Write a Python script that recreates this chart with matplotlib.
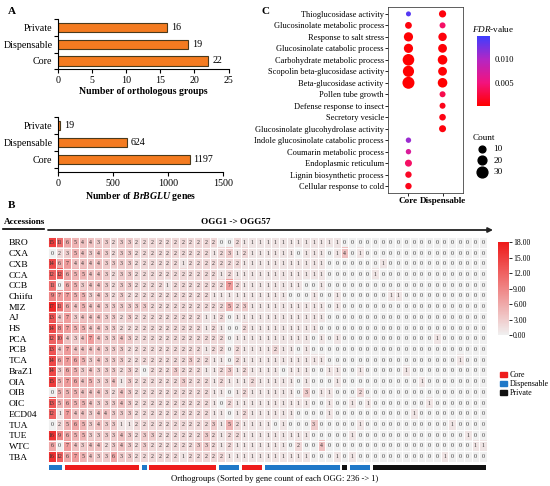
import itertools
import numpy as np
import matplotlib.pyplot as plt
from matplotlib.colors import LinearSegmentedColormap, Normalize
from matplotlib.cm import ScalarMappable
from matplotlib.patches import Patch
from matplotlib.lines import Line2D

plt.rcParams['font.family'] = ['Liberation Serif', 'DejaVu Serif']
plt.rcParams['mathtext.fontset'] = 'custom'
plt.rcParams['mathtext.rm'] = 'Liberation Serif'
plt.rcParams['mathtext.it'] = 'Liberation Serif:italic'
plt.rcParams['mathtext.bf'] = 'Liberation Serif:bold'
plt.rcParams['mathtext.bfit'] = 'Liberation Serif:italic:bold'

# ---- panel A data
groups = ['Core', 'Dispensable', 'Private']
ogg_counts = [22, 19, 16]
gene_totals = [1197, 624, 19]

# ---- panel C data (top to bottom)
go_terms = ['Thioglucosidase activity', 'Glucosinolate metabolic process',
            'Response to salt stress', 'Glucosinolate catabolic process',
            'Carbohydrate metabolic process', 'Scopolin beta-glucosidase activity',
            'Beta-glucosidase activity', 'Pollen tube growth',
            'Defense response to insect', 'Secretory vesicle',
            'Glucosinolate glucohydrolase activity',
            'Indole glucosinolate catabolic process', 'Coumarin metabolic process',
            'Endoplasmic reticulum', 'Lignin biosynthetic process',
            'Cellular response to cold']
nan = np.nan
core_go_count = [1, 10, 22, 22, 34, 32, 36, nan, nan, nan, nan, 3, 3, 11, 8, 8]
core_go_fdr = [0.014, 0.0005, 0.0002, 0.0002, 0.0001, 0.0001, 0.0001, nan, nan, nan, nan,
               0.011, 0.007, 0.004, 0.0015, 0.001]
disp_go_count = [12, 6, 18, 20, 24, 20, 24, 6, 6, 9, 11, nan, nan, nan, nan, nan]
disp_go_fdr = [0.0005, 0.004, 0.0005, 0.0003, 0.0002, 0.0002, 0.0001, 0.003, 0.001,
               0.0008, 0.0005, nan, nan, nan, nan, nan]
count_legend = [10, 20, 30]

# ---- panel B data
accessions = ['BRO', 'CXA', 'CXB', 'CCA', 'CCB', 'Chiifu', 'MIZ', 'AJ', 'HS', 'PCA',
              'PCB', 'TCA', 'BraZ1', 'OIA', 'OIB', 'OIC', 'ECD04', 'TUA', 'TUE', 'WTC', 'TBA']
# class of OGG1..OGG57: C core, D dispensable, P private
ogg_class = list('DDCCCCCCCCCCDCCCCCCCCCDDDCCCDDDDDDDDDDPDDDPPPPPPPPPPPPPPP')
count_rows = [
    "15 11 | 6 5 4 4 3 3 2 3 3 2 | 2 | 2 2 2 2 2 2 2 2 2 | 0 0 2 | 1 1 1 | 1 1 1 1 1 1 1 1 1 1 | 0 | 0 0 0 | 0 0 0 0 0 0 0 0 0 0 0 0 0 0 0",
    "0 2 | 3 5 4 3 4 3 2 3 3 2 | 2 | 2 2 2 2 2 2 2 2 1 | 2 3 1 | 2 1 1 | 1 1 1 1 0 1 1 1 0 1 | 4 | 0 1 0 | 0 0 0 0 0 0 0 0 0 0 0 0 0 0 0",
    "14 6 | 7 4 4 4 4 3 3 3 3 2 | 2 | 2 2 2 2 1 2 2 2 2 | 2 2 2 | 1 1 1 | 1 1 1 1 1 1 1 1 0 0 | 0 | 0 0 0 | 0 1 0 0 0 0 0 0 0 0 0 0 0 0 0",
    "12 12 | 6 5 5 4 4 3 2 3 3 2 | 2 | 2 2 2 2 2 2 2 2 2 | 1 2 1 | 1 1 1 | 1 1 1 1 1 1 1 1 0 0 | 0 | 0 0 0 | 1 0 0 0 0 0 0 0 0 0 0 0 0 0 0",
    "11 0 | 6 5 3 4 4 3 2 3 3 2 | 2 | 2 2 1 2 2 2 2 2 2 | 2 7 2 | 1 1 1 | 1 1 1 1 1 0 0 1 0 0 | 0 | 0 0 0 | 0 0 0 0 0 0 0 0 0 0 0 0 0 0 0",
    "9 7 | 7 5 5 3 4 3 2 3 2 2 | 2 | 2 2 2 2 2 2 2 2 1 | 1 1 1 | 1 1 1 | 1 1 1 0 0 0 1 0 0 1 | 0 | 0 0 0 | 0 0 1 1 0 0 0 0 0 0 0 0 0 0 0",
    "17 11 | 6 4 5 4 4 3 3 3 3 3 | 3 | 2 2 2 2 2 2 2 2 2 | 2 5 2 | 3 1 1 | 1 1 1 1 1 1 1 1 0 1 | 0 | 0 0 0 | 0 0 0 0 0 0 0 0 0 0 0 0 0 0 0",
    "13 4 | 7 3 4 4 4 3 3 2 3 2 | 2 | 2 2 2 2 2 2 2 1 1 | 2 0 1 | 1 1 1 | 1 1 1 1 1 1 1 1 0 0 | 0 | 0 0 0 | 0 0 0 0 0 0 0 0 0 0 0 0 0 0 0",
    "14 8 | 7 5 5 4 4 3 3 2 2 2 | 2 | 2 2 2 2 2 2 2 1 2 | 1 0 0 | 2 1 1 | 1 1 1 1 1 1 1 0 0 0 | 0 | 0 0 0 | 0 0 0 0 0 0 0 0 0 0 0 0 0 0 0",
    "12 10 | 4 3 4 7 4 3 3 4 3 2 | 2 | 2 2 2 2 2 2 2 2 2 | 2 0 1 | 1 1 1 | 1 1 1 1 1 1 0 1 0 1 | 0 | 0 0 0 | 0 0 0 0 0 0 0 0 1 0 0 0 0 0 0",
    "13 4 | 7 4 4 4 4 3 3 3 2 2 | 2 | 2 2 2 2 2 2 2 1 2 | 2 0 2 | 1 1 1 | 1 2 1 1 0 1 0 0 0 0 | 0 | 0 0 0 | 0 0 0 0 0 0 0 0 0 0 0 0 0 0 0",
    "14 6 | 7 6 5 3 4 3 3 3 2 2 | 2 | 2 2 2 2 2 3 2 2 1 | 1 0 2 | 1 1 1 | 1 1 1 1 1 1 1 1 0 0 | 0 | 0 0 0 | 0 0 0 0 0 0 0 0 0 0 0 1 0 0 0",
    "14 3 | 6 5 3 4 3 3 3 2 3 2 | 0 | 2 2 2 3 2 2 2 1 1 | 2 3 1 | 2 1 1 | 1 1 0 1 1 1 0 0 1 1 | 0 | 0 1 0 | 0 0 0 0 1 0 0 0 0 0 0 0 0 0 0",
    "15 5 | 7 6 4 5 3 3 4 1 3 2 | 2 | 2 2 2 2 3 2 2 2 1 | 2 1 1 | 1 2 1 | 1 1 1 1 0 1 0 0 0 1 | 0 | 0 0 0 | 0 0 0 0 0 0 1 0 0 0 0 0 0 0 0",
    "0 5 | 5 5 4 4 4 3 2 4 3 2 | 2 | 2 2 2 2 2 2 2 2 1 | 1 0 1 | 2 1 1 | 1 1 1 1 0 3 0 1 1 0 | 0 | 0 2 0 | 0 0 0 0 0 0 0 0 0 0 0 0 0 0 0",
    "13 5 | 6 5 5 4 3 3 3 4 3 2 | 2 | 2 2 2 2 2 2 2 2 1 | 0 2 1 | 1 1 1 | 1 1 1 1 1 1 0 0 1 0 | 0 | 1 0 1 | 0 0 0 0 0 0 0 1 0 0 0 0 0 0 0",
    "12 1 | 7 4 4 3 4 4 3 3 3 2 | 2 | 2 2 2 2 2 2 2 2 1 | 1 0 1 | 2 1 1 | 1 1 1 1 0 0 0 0 1 0 | 0 | 0 0 0 | 0 0 0 0 0 1 0 0 0 0 0 0 0 0 0",
    "0 2 | 5 6 5 3 4 3 3 1 1 2 | 2 | 2 2 2 2 2 2 2 2 3 | 1 5 2 | 1 1 1 | 1 0 1 0 0 0 3 0 0 0 | 0 | 0 1 0 | 0 0 0 0 0 0 0 0 0 0 1 0 0 0 0",
    "16 9 | 6 5 5 3 3 3 3 4 3 2 | 3 | 3 2 2 2 2 2 2 3 2 | 1 2 2 | 1 1 1 | 1 1 1 1 1 1 0 0 0 0 | 0 | 1 0 0 | 0 0 0 0 0 0 0 0 0 0 0 0 1 0 0",
    "6 0 | 7 4 3 4 4 2 3 4 3 2 | 3 | 2 2 2 2 2 2 3 3 2 | 1 2 1 | 1 1 1 | 1 1 1 0 2 0 0 4 0 0 | 0 | 0 0 0 | 0 0 0 0 0 0 0 0 0 0 0 0 0 1 1",
    "16 12 | 6 7 5 4 3 3 6 3 3 2 | 2 | 2 2 2 2 1 2 2 2 2 | 2 1 1 | 1 1 1 | 1 1 1 1 1 1 0 0 0 1 | 0 | 1 0 0 | 0 0 0 0 0 0 0 0 0 1 0 0 0 0 0",
]
counts = np.array([[int(v) for v in r.replace('|', ' ').split()] for r in count_rows])

class_colors = {'C': '#ee1c1c', 'D': '#1f78c8', 'P': '#111111'}
class_names = {'C': 'Core', 'D': 'Dispensable', 'P': 'Private'}

W, H = 550, 486


def box(x0, y0, x1, y1):
    # pixel box, origin top-left -> figure rect
    return [x0 / W, 1 - y1 / H, (x1 - x0) / W, (y1 - y0) / H]


fig = plt.figure(figsize=(W / 100, H / 100), dpi=100)

# ================= A
bar_color = '#f47b20'
edge = '#4a3a1c'


def bar_panel(rect, values, ymin, xmax, step, xlabel, off):
    ax = fig.add_axes(rect)
    ax.barh(range(3), values, height=0.55, color=bar_color, edgecolor=edge, lw=0.8)
    for i, v in enumerate(values):
        ax.text(v + off, i, str(v), va='center', ha='left', fontsize=7.2)
    ax.set_ylim(ymin, 2.33)
    ax.set_xlim(0, xmax)
    ax.set_xticks(np.arange(0, xmax + 1, step))
    ax.set_yticks(range(3))
    ax.set_yticklabels(groups, fontsize=7.2)
    ax.set_yticks([-0.5, 0.5, 1.5, 2.5], minor=True)
    ax.tick_params(axis='y', which='major', length=0, pad=4)
    ax.tick_params(axis='y', which='minor', length=3, width=0.8)
    ax.tick_params(axis='x', length=3, width=0.8, labelsize=7.2, pad=2)
    for s in ['top', 'right']:
        ax.spines[s].set_visible(False)
    for s in ['left', 'bottom']:
        ax.spines[s].set_linewidth(0.8)
    ax.set_xlabel(xlabel, fontsize=7, fontweight='bold', labelpad=1)
    return ax


bar_panel(box(58, 19, 228.5, 69.3), ogg_counts, -0.48, 25, 5,
          'Number of orthologous groups', 0.6)
bar_panel(box(58, 117, 223, 172.3), gene_totals, -0.78, 1500, 500,
          r'Number of $\mathbfit{BrBGLU}$ genes', 35)

# ================= C
ax_c = fig.add_axes(box(388, 7, 463, 193))
fdr_cmap = LinearSegmentedColormap.from_list(
    'fdr', ['#ff0000', '#f2137e', '#b326c4', '#3d3dff'])
fdr_norm = Normalize(0, 0.015)


def dot_size(c):
    d = 4.8 + 0.2 * np.asarray(c, dtype=float)  # diameter in px
    return (d * 0.72) ** 2


ypos = np.arange(len(go_terms))[::-1] + 1
for xi, cnt, fdr in [(1, core_go_count, core_go_fdr), (2, disp_go_count, disp_go_fdr)]:
    cnt = np.array(cnt, dtype=float)
    fdr = np.array(fdr, dtype=float)
    ok = ~np.isnan(cnt)
    ax_c.scatter(np.full(ok.sum(), xi), ypos[ok], s=dot_size(cnt[ok]),
                 c=fdr[ok], cmap=fdr_cmap, norm=fdr_norm, linewidths=0)
ax_c.set_xlim(0.4, 2.6)
ax_c.set_ylim(0.4, len(go_terms) + 0.6)
ax_c.set_xticks([1, 2])
ax_c.set_xticklabels(['Core', 'Dispensable'], fontsize=6.6, fontweight='bold')
ax_c.set_yticks(ypos)
ax_c.set_yticklabels(go_terms, fontsize=6)
ax_c.tick_params(length=2, width=0.6, pad=1)
for s in ax_c.spines.values():
    s.set_linewidth(0.6)
    s.set_color('#444444')

cax_c = fig.add_axes(box(477, 36, 490, 106))
cb_c = fig.colorbar(ScalarMappable(norm=fdr_norm, cmap=fdr_cmap), cax=cax_c,
                    ticks=[0.005, 0.010], format='%.3f')
cb_c.outline.set_visible(False)
cax_c.tick_params(length=2, width=0.6, labelsize=6.2, pad=1, color='white')
fig.text(472 / W, 1 - 29 / H, r'$\it{FDR}$-value', fontsize=6.6, va='center', ha='left')

handles = [ax_c.scatter([], [], s=dot_size(c), color='black') for c in count_legend]
fig.legend(handles, [str(c) for c in count_legend], title='Count', loc='upper left',
           bbox_to_anchor=(468 / W, 1 - 129 / H), frameon=False, fontsize=6.6,
           title_fontsize=6.6, labelspacing=0.35, handletextpad=0.3, borderpad=0,
           alignment='left')

# ================= B
ax_hm = fig.add_axes(box(48, 237, 487, 462))
hm_cmap = LinearSegmentedColormap.from_list('wr', ['#f0f0f0', '#ee1a1a'])
im = ax_hm.imshow(counts, cmap=hm_cmap, vmin=0, vmax=18, aspect='auto',
                  interpolation='nearest')
n_rows, n_cols = counts.shape
ax_hm.set_xticks(np.arange(-0.5, n_cols, 1), minor=True)
ax_hm.set_yticks(np.arange(-0.5, n_rows, 1), minor=True)
ax_hm.grid(which='minor', color='white', lw=0.7)
ax_hm.tick_params(which='minor', length=0)
ax_hm.set_xticks([])
ax_hm.set_yticks(range(n_rows))
ax_hm.set_yticklabels(accessions, ha='left', fontsize=6.8)
ax_hm.tick_params(axis='y', length=0, pad=28)
for s in ax_hm.spines.values():
    s.set_visible(False)
for i in range(n_rows):
    for j in range(n_cols):
        ax_hm.text(j, i, str(counts[i, j]), ha='center', va='center',
                   fontsize=4.2, color='#333333')

# class strip under the heatmap
ax_cls = fig.add_axes(box(48, 465, 487, 470))
pos = 0
for key, grp in itertools.groupby(ogg_class):
    n = len(list(grp))
    ax_cls.barh(0, n - 0.3, left=pos - 0.5 + 0.15, height=1, color=class_colors[key])
    pos += n
ax_cls.set_xlim(-0.5, n_cols - 0.5)
ax_cls.set_ylim(-0.5, 0.5)
ax_cls.axis('off')

cax = fig.add_axes(box(498, 242, 509, 335))
cb = fig.colorbar(im, cax=cax, ticks=range(0, 19, 3), format='%.2f')
cb.outline.set_visible(False)
cax.tick_params(length=2, width=0.6, labelsize=5.6, pad=1)

fig.legend([Patch(color=class_colors[k]) for k in 'CDP'],
           [class_names[k] for k in 'CDP'], loc='upper left',
           bbox_to_anchor=(496 / W, 1 - 367 / H), frameon=False, fontsize=5.8,
           handlelength=0.9, handleheight=0.6, handletextpad=0.3,
           labelspacing=0.15, borderpad=0)

# header of B
fig.text(4 / W, 1 - 222 / H, 'Accessions', fontsize=6.6, fontweight='bold', va='center')
fig.add_artist(Line2D([3 / W, 44 / W], [1 - 229 / H] * 2, color='black', lw=1.2))
fig.text(236 / W, 1 - 222 / H, 'OGG1 -> OGG57', fontsize=6.6, fontweight='bold',
         va='center', ha='center')
ax_hm.annotate('', xy=(493 / W, 1 - 230 / H), xytext=(48 / W, 1 - 230 / H),
               xycoords='figure fraction', textcoords='figure fraction',
               arrowprops=dict(arrowstyle='-|>', lw=1.3, color='#222222',
                               mutation_scale=7, shrinkA=0, shrinkB=0),
               annotation_clip=False)
fig.text(275 / W, 1 - 479 / H, 'Orthogroups (Sorted by gene count of each OGG: 236 -> 1)',
         fontsize=6.2, ha='center', va='center')

# panel letters
for letter, x, y in [('A', 8, 12), ('B', 8, 206), ('C', 262, 11)]:
    fig.text(x / W, 1 - y / H, letter, fontsize=8, fontweight='bold', va='center')

fig.savefig('out.png', dpi=100)
